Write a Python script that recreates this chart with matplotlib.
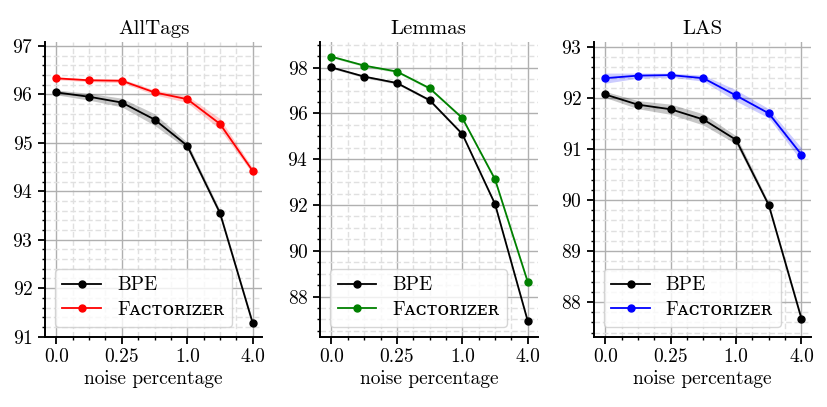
import numpy as np
import matplotlib
matplotlib.use("Agg")
import matplotlib.pyplot as plt
from matplotlib.ticker import MultipleLocator

plt.rcParams['font.family'] = ['cmr10', 'DejaVu Serif']
plt.rcParams['mathtext.fontset'] = 'cm'
plt.rcParams['axes.formatter.use_mathtext'] = True

# noise levels (plotted at evenly spaced positions)
noise = [0.0, 0.125, 0.25, 0.5, 1.0, 2.0, 4.0]
tick_labels = ['0.0', '0.25', '1.0', '4.0']

titles = ['AllTags', 'Lemmas', 'LAS']

bpe_alltags = [96.04, 95.95, 95.83, 95.48, 94.94, 93.55, 91.28]
fac_alltags = [96.33, 96.29, 96.28, 96.04, 95.90, 95.39, 94.42]
bpe_alltags_std = [0.05, 0.07, 0.09, 0.12, 0.07, 0.06, 0.05]
fac_alltags_std = [0.03, 0.03, 0.04, 0.05, 0.07, 0.11, 0.06]

bpe_lemmas = [98.01, 97.61, 97.33, 96.58, 95.10, 92.04, 86.93]
fac_lemmas = [98.48, 98.09, 97.83, 97.10, 95.80, 93.12, 88.64]
bpe_lemmas_std = [0.05, 0.05, 0.05, 0.06, 0.06, 0.07, 0.07]
fac_lemmas_std = [0.05, 0.05, 0.05, 0.06, 0.06, 0.07, 0.07]

bpe_las = [92.07, 91.87, 91.78, 91.58, 91.18, 89.90, 87.67]
fac_las = [92.39, 92.44, 92.45, 92.39, 92.05, 91.70, 90.89]
bpe_las_std = [0.06, 0.08, 0.10, 0.11, 0.08, 0.05, 0.05]
fac_las_std = [0.10, 0.05, 0.04, 0.06, 0.11, 0.09, 0.13]

panels = [
    (bpe_alltags, bpe_alltags_std, fac_alltags, fac_alltags_std, 'red', (91.0, 97.07), 1, 0.2),
    (bpe_lemmas, bpe_lemmas_std, fac_lemmas, fac_lemmas_std, 'green', (86.25, 99.1), 2, 0.5),
    (bpe_las, bpe_las_std, fac_las, fac_las_std, 'blue', (87.32, 93.09), 1, 0.2),
]

fig = plt.figure(figsize=(8.27, 4.07), dpi=100)
lefts = [0.0544, 0.387, 0.718]
x = np.arange(len(noise))

for i, (bpe, bstd, fac, fstd, col, ylim, major, minor) in enumerate(panels):
    ax = fig.add_axes([lefts[i], 0.173, 0.263, 0.7226])
    bpe = np.array(bpe); bstd = np.array(bstd)
    fac = np.array(fac); fstd = np.array(fstd)

    ax.fill_between(x, bpe - bstd, bpe + bstd, color='black', alpha=0.22, lw=0)
    ax.fill_between(x, fac - fstd, fac + fstd, color=col, alpha=0.2, lw=0)
    ax.plot(x, bpe, color='black', marker='o', ms=5, lw=1.3, label='BPE', zorder=3)
    ax.plot(x, fac, color=col, marker='o', ms=5, lw=1.3,
            label='F\u1d00\u1d04\u1d1b\u1d0f\u0280\u026a\u1d22\u1d07\u0280', zorder=3)

    ax.set_xlim(-0.35, 6.3)
    ax.set_ylim(*ylim)
    ax.set_xticks(x[::2])
    ax.set_xticklabels(tick_labels)
    ax.xaxis.set_minor_locator(MultipleLocator(0.5))
    ax.yaxis.set_major_locator(MultipleLocator(major))
    ax.yaxis.set_minor_locator(MultipleLocator(minor))

    ax.grid(which='major', color='#b0b0b0', lw=1.0)
    ax.grid(which='minor', color='#e0e0e0', lw=1.0, ls=(0, (4, 2)))
    ax.set_axisbelow(True)

    for s in ['top', 'right']:
        ax.spines[s].set_visible(False)
    for s in ['left', 'bottom']:
        ax.spines[s].set_linewidth(1.4)
    ax.tick_params(which='major', length=5, width=1.3, labelsize=14)
    ax.tick_params(which='minor', length=2.5, width=1.0)

    ax.set_title(titles[i], fontsize=15, pad=6)
    ax.set_xlabel('noise percentage', fontsize=14, labelpad=3)
    ax.legend(loc='lower left', fontsize=14, handlelength=2.0, handletextpad=0.8,
              borderpad=0.4, labelspacing=0.35, framealpha=0.8)

fig.savefig('out.png', dpi=100)
